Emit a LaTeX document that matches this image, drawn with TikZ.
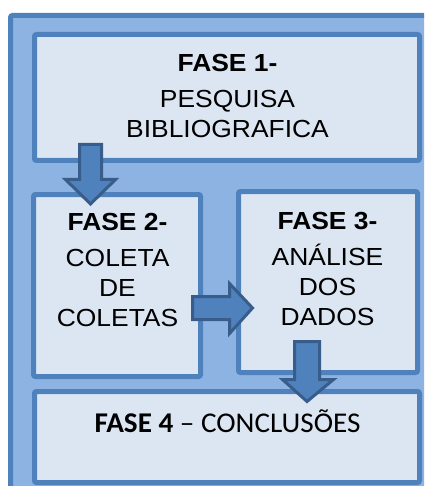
\documentclass[tikz,border=0pt]{standalone}
\usepackage{fontspec}
\setmainfont{Liberation Sans}
\newfontfamily\phasefont[FakeStretch=1.07]{Liberation Sans}
\newfontfamily\endfont[FakeStretch=1.02]{Carlito}

\definecolor{frameblue}{HTML}{4F81BD}
\definecolor{panelblue}{HTML}{8DB3E2}
\definecolor{boxfill}{HTML}{DCE6F2}
\definecolor{arrowedge}{HTML}{385D8A}

\tikzset{
  panel/.style={draw=frameblue, fill=panelblue, line width=5pt, rounded corners=2pt},
  phasebox/.style={draw=frameblue, fill=boxfill, line width=5pt, rounded corners=2pt,
                   rectangle, inner sep=0pt, outer sep=0pt},
  txt/.style={anchor=base, inner sep=0pt, font=\phasefont\fontsize{24.7}{29}\selectfont},
  endtxt/.style={anchor=base, inner sep=0pt, font=\endfont\fontsize{28.6}{33}\selectfont},
  blockarrow/.style={draw=arrowedge, fill=frameblue, line width=3pt, line join=miter}
}

\begin{document}
\begin{tikzpicture}[x=1pt, y=-1pt]
  \useasboundingbox (0,0) rectangle (424,486);

  % background panel, running off the right and bottom edges
  \begin{scope}
    \clip (0,0) rectangle (424,486);
    \draw[panel] (10.5,15.5) rectangle (445,505);
  \end{scope}

  % phase boxes
  \node[phasebox, minimum width=385pt, minimum height=126pt] (f1) at (227,97.5) {};
  \node[phasebox, minimum width=167pt, minimum height=182pt] (f2) at (117,285.5) {};
  \node[phasebox, minimum width=179pt, minimum height=181pt] (f3) at (328,282) {};
  \node[phasebox, minimum width=385pt, minimum height=91pt]  (f4) at (227,437) {};

  % phase 1 text
  \node[txt] (t1a) at (227.5,72)  {\bfseries FASE 1-};
  \node[txt] (t1b) at (227.5,108) {PESQUISA};
  \node[txt] (t1c) at (227.5,138) {BIBLIOGRAFICA};

  % phase 2 text
  \node[txt] (t2a) at (117.5,230)   {\bfseries FASE 2-};
  \node[txt] (t2b) at (117.5,266)   {COLETA};
  \node[txt] (t2c) at (117.5,296.7) {DE};
  \node[txt] (t2d) at (117.5,326.7) {COLETAS};

  % phase 3 text
  \node[txt] (t3a) at (327.5,229)   {\bfseries FASE 3-};
  \node[txt] (t3b) at (327.5,265)   {ANÁLISE};
  \node[txt] (t3c) at (327.5,295)   {DOS};
  \node[txt] (t3d) at (327.5,325.7) {DADOS};

  % phase 4 text
  \node[endtxt] (t4) at (227.5,432) {\textbf{FASE 4} – CONCLUSÕES};

  % block arrows between phases
  \draw[blockarrow] (79.5,144.5) -- (101.5,144.5) -- (101.5,179.5) -- (115.5,179.5)
                    -- (90.5,204) -- (65.5,179.5) -- (79.5,179.5) -- cycle;
  \draw[blockarrow] (192.5,296.5) -- (229.5,296.5) -- (229.5,283.5) -- (252.5,308)
                    -- (229.5,333.5) -- (229.5,319.5) -- (192.5,319.5) -- cycle;
  \draw[blockarrow] (294.5,341.5) -- (319.5,341.5) -- (319.5,379.5) -- (333.5,379.5)
                    -- (307,401.5) -- (282.5,379.5) -- (294.5,379.5) -- cycle;
\end{tikzpicture}
\end{document}
